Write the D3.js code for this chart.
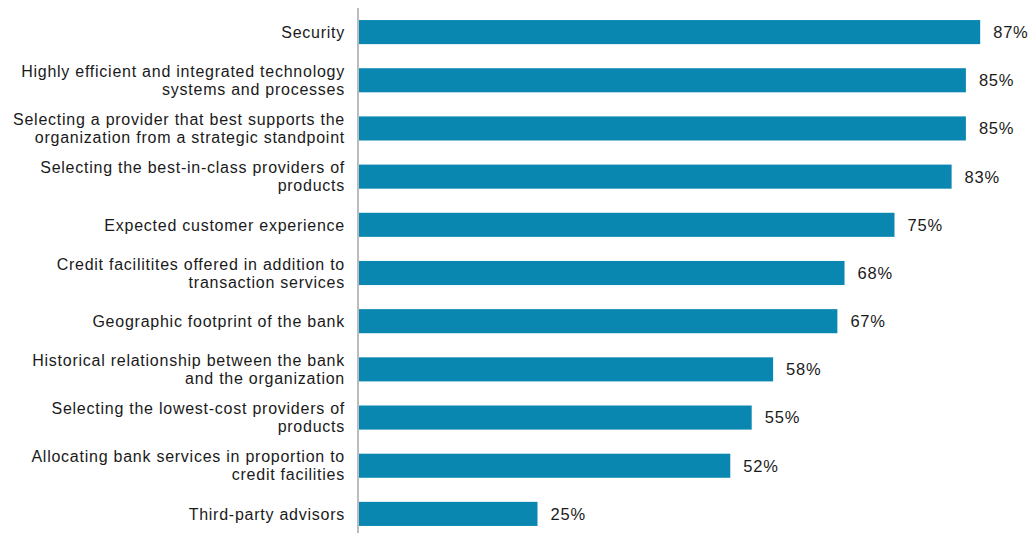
<!DOCTYPE html>
<html>
<head>
<meta charset="utf-8">
<script src="https://cdn.jsdelivr.net/npm/d3@7"></script>
<style>
  body { margin: 0; background: #fff; }
  svg text { font-family: "Liberation Sans", Arial, sans-serif; fill: #1a1a1a; }
</style>
</head>
<body>
<div id="chart"></div>
<script>
// categories, each split into the lines shown on the chart
var categories = [
    ["Security"],
    ["Highly efficient and integrated technology", "systems and processes"],
    ["Selecting a provider that best supports the", "organization from a strategic standpoint"],
    ["Selecting the best-in-class providers of", "products"],
    ["Expected customer experience"],
    ["Credit facilitites offered in addition to", "transaction services"],
    ["Geographic footprint of the bank"],
    ["Historical relationship between the bank", "and the organization"],
    ["Selecting the lowest-cost providers of", "products"],
    ["Allocating bank services in proportion to", "credit facilities"],
    ["Third-party advisors"]
];
var values = [87, 85, 85, 83, 75, 68, 67, 58, 55, 52, 25];

var width = 1033, height = 533;
var barColor = "#0a87b1";

var rows = categories.map(function(c, i) {
    return { id: i, lines: c, value: values[i] };
});

var svg = d3.select("#chart").append("svg")
    .attr("width", width)
    .attr("height", height);

var x = d3.scaleLinear()
    .domain([0, 100])
    .range([359, 1073]);

var y = d3.scaleBand()
    .domain(rows.map(function(d) { return d.id; }))
    .range([8, 538])
    .paddingInner(0.5)
    .paddingOuter(0.25);

// bars
svg.append("g")
    .selectAll("rect")
    .data(rows)
    .enter().append("rect")
    .attr("x", x(0))
    .attr("y", function(d) { return y(d.id); })
    .attr("width", function(d) { return x(d.value) - x(0); })
    .attr("height", y.bandwidth())
    .attr("fill", barColor);

// value labels
svg.append("g")
    .selectAll("text")
    .data(rows)
    .enter().append("text")
    .attr("x", function(d) { return x(d.value) + 13; })
    .attr("y", function(d) { return y(d.id) + y.bandwidth() / 2; })
    .attr("dy", "0.36em")
    .style("font-size", "16.5px")
    .style("letter-spacing", "0.8px")
    .text(function(d) { return d.value + "%"; });

// category labels (multi-line, right aligned)
var lineH = 18;
var labels = svg.append("g")
    .selectAll("text")
    .data(rows)
    .enter().append("text")
    .attr("text-anchor", "end")
    .style("font-size", "16px")
    .style("letter-spacing", "0.75px")
    .attr("transform", function(d) {
        var cy = y(d.id) + y.bandwidth() / 2;
        return "translate(345," + (cy - (d.lines.length - 1) * lineH / 2) + ")";
    });

labels.selectAll("tspan")
    .data(function(d) { return d.lines; })
    .enter().append("tspan")
    .attr("x", 0)
    .attr("dy", function(l, i) { return i === 0 ? "0.36em" : lineH; })
    .text(function(l) { return l; });

// vertical axis line
svg.append("line")
    .attr("x1", x(0) - 1)
    .attr("x2", x(0) - 1)
    .attr("y1", 8)
    .attr("y2", height)
    .attr("stroke", "#a6a6a6")
    .attr("stroke-width", 1.5);
</script>
</body>
</html>
